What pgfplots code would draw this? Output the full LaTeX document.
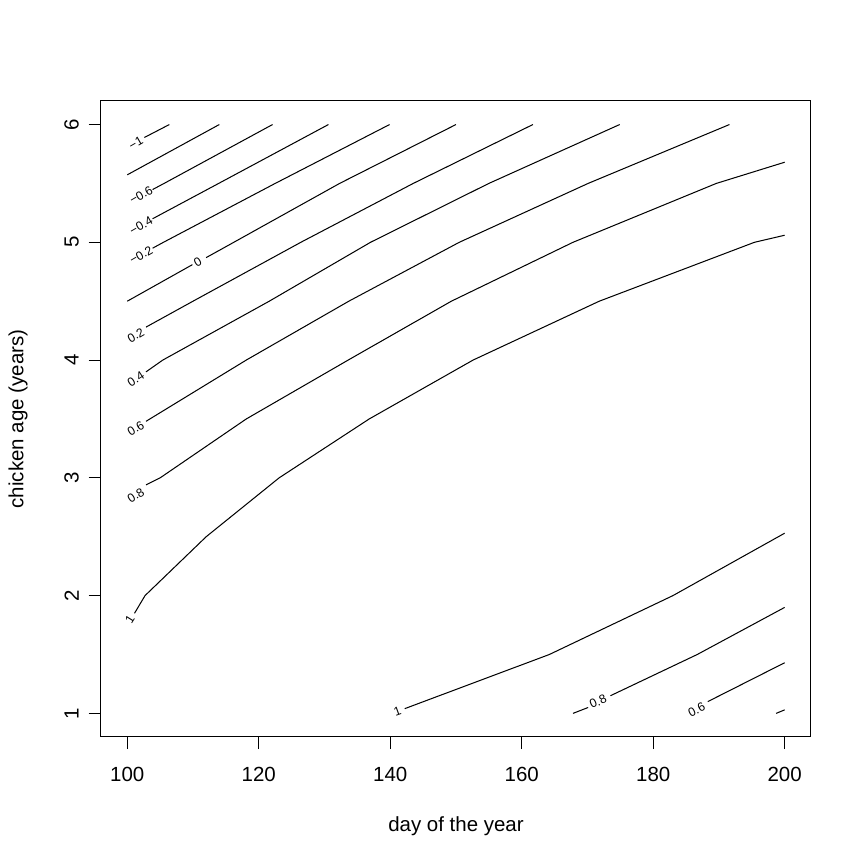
\documentclass[border=0pt]{standalone}
\usepackage{fontspec}
\setmainfont{Liberation Sans}
\usepackage{pgfplots}
\pgfplotsset{compat=1.18}

% contour label style (R labcex 0.6)
\tikzset{clab/.style={font=\fontsize{7.2}{8}\selectfont, inner sep=0pt, anchor=center}}

\begin{document}
\begin{tikzpicture}
\begin{axis}[
    scale only axis,
    width=416.2pt, height=372.8pt,
    xmin=96, xmax=204, ymin=0.8, ymax=6.2,
    xtick={100,120,140,160,180,200},
    ytick={1,2,3,4,5,6},
    xtick pos=bottom, ytick pos=left,
    tick align=outside, major tick length=7.2pt,
    tick style={black, line width=0.6pt},
    axis line style={line width=0.6pt},
    /pgf/number format/assume math mode=true,
    ticklabel style={font=\fontsize{12}{14}\selectfont},
    xticklabel style={anchor=center, yshift=-15pt},
    yticklabel style={anchor=center, xshift=-10pt, rotate=90},
    xlabel={day of the year}, ylabel={chicken age (years)},
    every axis x label/.style={at={(axis description cs:0.5,-0.1399)}, anchor=center, font=\fontsize{12}{14}\selectfont},
    every axis y label/.style={at={(axis description cs:-0.1169,0.5)}, rotate=90, anchor=center, font=\fontsize{12}{14}\selectfont},
    clip=false,
]
% upper-left family of contours
\addplot[black, line width=0.6pt] coordinates {(102.6,5.89) (106.4,6.0)};
\addplot[black, line width=0.6pt] coordinates {(100,5.573) (114.0,6.0)};
\addplot[black, line width=0.6pt] coordinates {(103.85,5.448) (105.6,5.5) (122.1,6.0)};
\addplot[black, line width=0.6pt] coordinates {(103.85,5.20) (113.9,5.5) (130.6,6.0)};
\addplot[black, line width=0.6pt] coordinates {(103.85,4.95) (105.5,5.0) (122.5,5.5) (139.9,6.0)};
\addplot[black, line width=0.6pt] coordinates {(100,4.50) (109.9,4.81)};
\addplot[black, line width=0.6pt] coordinates {(112.0,4.87) (116.2,5.0) (132.3,5.5) (150.0,6.0)};
\addplot[black, line width=0.6pt] coordinates {(102.85,4.28) (110.0,4.5) (126.4,5.0) (143.5,5.5) (161.7,6.0)};
\addplot[black, line width=0.6pt] coordinates {(102.85,3.90) (105.4,4.0) (121.6,4.5) (137.0,5.0) (155.0,5.5) (174.9,6.0)};
\addplot[black, line width=0.6pt] coordinates {(102.85,3.48) (118.1,4.0) (133.7,4.5) (150.5,5.0) (170.1,5.5) (191.6,6.0)};
\addplot[black, line width=0.6pt] coordinates {(102.85,2.94) (105.0,3.0) (118.1,3.5) (133.6,4.0) (149.3,4.5) (167.8,5.0) (189.6,5.5) (200,5.68)};
\addplot[black, line width=0.6pt] coordinates {(101.1,1.85) (102.7,2.0) (112.0,2.5) (123.1,3.0) (136.8,3.5) (152.6,4.0) (171.8,4.5) (195.4,5.0) (200,5.06)};
% lower-right family
\addplot[black, line width=0.6pt] coordinates {(142.2,1.04) (164.2,1.5) (183.0,2.0) (200,2.53)};
\addplot[black, line width=0.6pt] coordinates {(167.8,1.0) (170.1,1.05)};
\addplot[black, line width=0.6pt] coordinates {(173.5,1.15) (186.7,1.5) (200,1.90)};
\addplot[black, line width=0.6pt] coordinates {(188.3,1.10) (200,1.43)};
\addplot[black, line width=0.6pt] coordinates {(198.7,1.0) (200,1.03)};
% labels
\node[clab, rotate=30] at (axis cs:101.3,5.84) {−1};
\node[clab, rotate=30] at (axis cs:102.1,5.40) {−0.6};
\node[clab, rotate=30] at (axis cs:102.1,5.14) {−0.4};
\node[clab, rotate=30] at (axis cs:102.1,4.89) {−0.2};
\node[clab, rotate=30] at (axis cs:110.7,4.83) {0};
\node[clab, rotate=30] at (axis cs:101.3,4.21) {0.2};
\node[clab, rotate=33] at (axis cs:101.3,3.84) {0.4};
\node[clab, rotate=31] at (axis cs:101.3,3.42) {0.6};
\node[clab, rotate=33] at (axis cs:101.3,2.85) {0.8};
\node[clab, rotate=58] at (axis cs:100.4,1.80) {1};
\node[clab, rotate=20] at (axis cs:141.1,1.02) {1};
\node[clab, rotate=24] at (axis cs:171.6,1.10) {0.8};
\node[clab, rotate=27] at (axis cs:186.6,1.03) {0.6};
\end{axis}
\path ([shift={(-59.2pt,-73.9pt)}]current axis.south west) rectangle ([shift={(30.5pt,59.2pt)}]current axis.north east);
\end{tikzpicture}
\end{document}
